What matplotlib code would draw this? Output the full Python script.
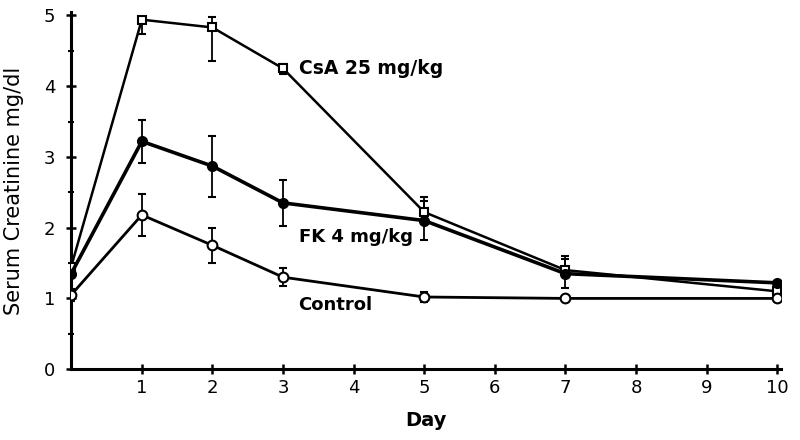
import numpy as np
import matplotlib.pyplot as plt
import matplotlib

matplotlib.rc('font', family='DejaVu Sans', size=13)

days = [0, 1, 2, 3, 5, 7, 10]

csa = [1.45, 4.94, 4.83, 4.25, 2.22, 1.40, 1.10]
csa_lo = [0.00, 0.20, 0.47, 0.08, 0.10, 0.05, 0.03]
csa_hi = [0.00, 0.03, 0.15, 0.07, 0.22, 0.20, 0.03]

fk = [1.35, 3.22, 2.87, 2.35, 2.10, 1.35, 1.22]
fk_err = [0.00, 0.30, 0.43, 0.33, 0.28, 0.20, 0.03]

ctrl = [1.05, 2.18, 1.75, 1.30, 1.02, 1.00, 1.00]
ctrl_err = [0.08, 0.30, 0.25, 0.13, 0.07, 0.04, 0.03]

fig = plt.figure(figsize=(8, 4.4), dpi=100)
ax = fig.add_axes([0.089, 0.161, 0.887, 0.812])

ax.errorbar(days, csa, yerr=[csa_lo, csa_hi], color='k', lw=1.8,
            marker='s', ms=6, mfc='white', mec='k', mew=1.5,
            elinewidth=1.3, capsize=3, capthick=1.5, zorder=3)
ax.errorbar(days, fk, yerr=fk_err, color='k', lw=2.6,
            marker='o', ms=7, mfc='k', mec='k',
            elinewidth=1.3, capsize=3, capthick=1.5, zorder=3)
ax.errorbar(days, ctrl, yerr=ctrl_err, color='k', lw=2.0,
            marker='o', ms=7, mfc='white', mec='k', mew=1.5,
            elinewidth=1.3, capsize=3, capthick=1.5, zorder=3)

ax.text(3.22, 4.25, 'CsA 25 mg/kg', fontsize=13.5, fontweight='bold',
        va='center', ha='left')
ax.text(3.22, 1.87, 'FK 4 mg/kg', fontsize=13, fontweight='bold',
        va='center', ha='left')
ax.text(3.22, 0.9, 'Control', fontsize=13, fontweight='bold',
        va='center', ha='left')

ax.set_xlim(0, 10.05)
ax.set_ylim(0, 5.05)
ax.set_xticks(range(1, 11))
ax.set_yticks(range(0, 6))
ax.set_yticks(np.arange(0.5, 5, 1.0), minor=True)
ax.tick_params(axis='both', direction='inout', length=7, width=1.8)
ax.tick_params(axis='y', pad=8)
ax.tick_params(axis='y', which='minor', direction='inout', length=5, width=1.5)
for s in ['top', 'right']:
    ax.spines[s].set_visible(False)
for s in ['left', 'bottom']:
    ax.spines[s].set_linewidth(2.2)

ax.set_xlabel('Day', fontweight='bold', fontsize=14, labelpad=10)
ax.set_ylabel('Serum Creatinine mg/dl', fontsize=15)
ax.yaxis.set_label_coords(-0.066, 0.5)

plt.savefig('out.png', dpi=100)
